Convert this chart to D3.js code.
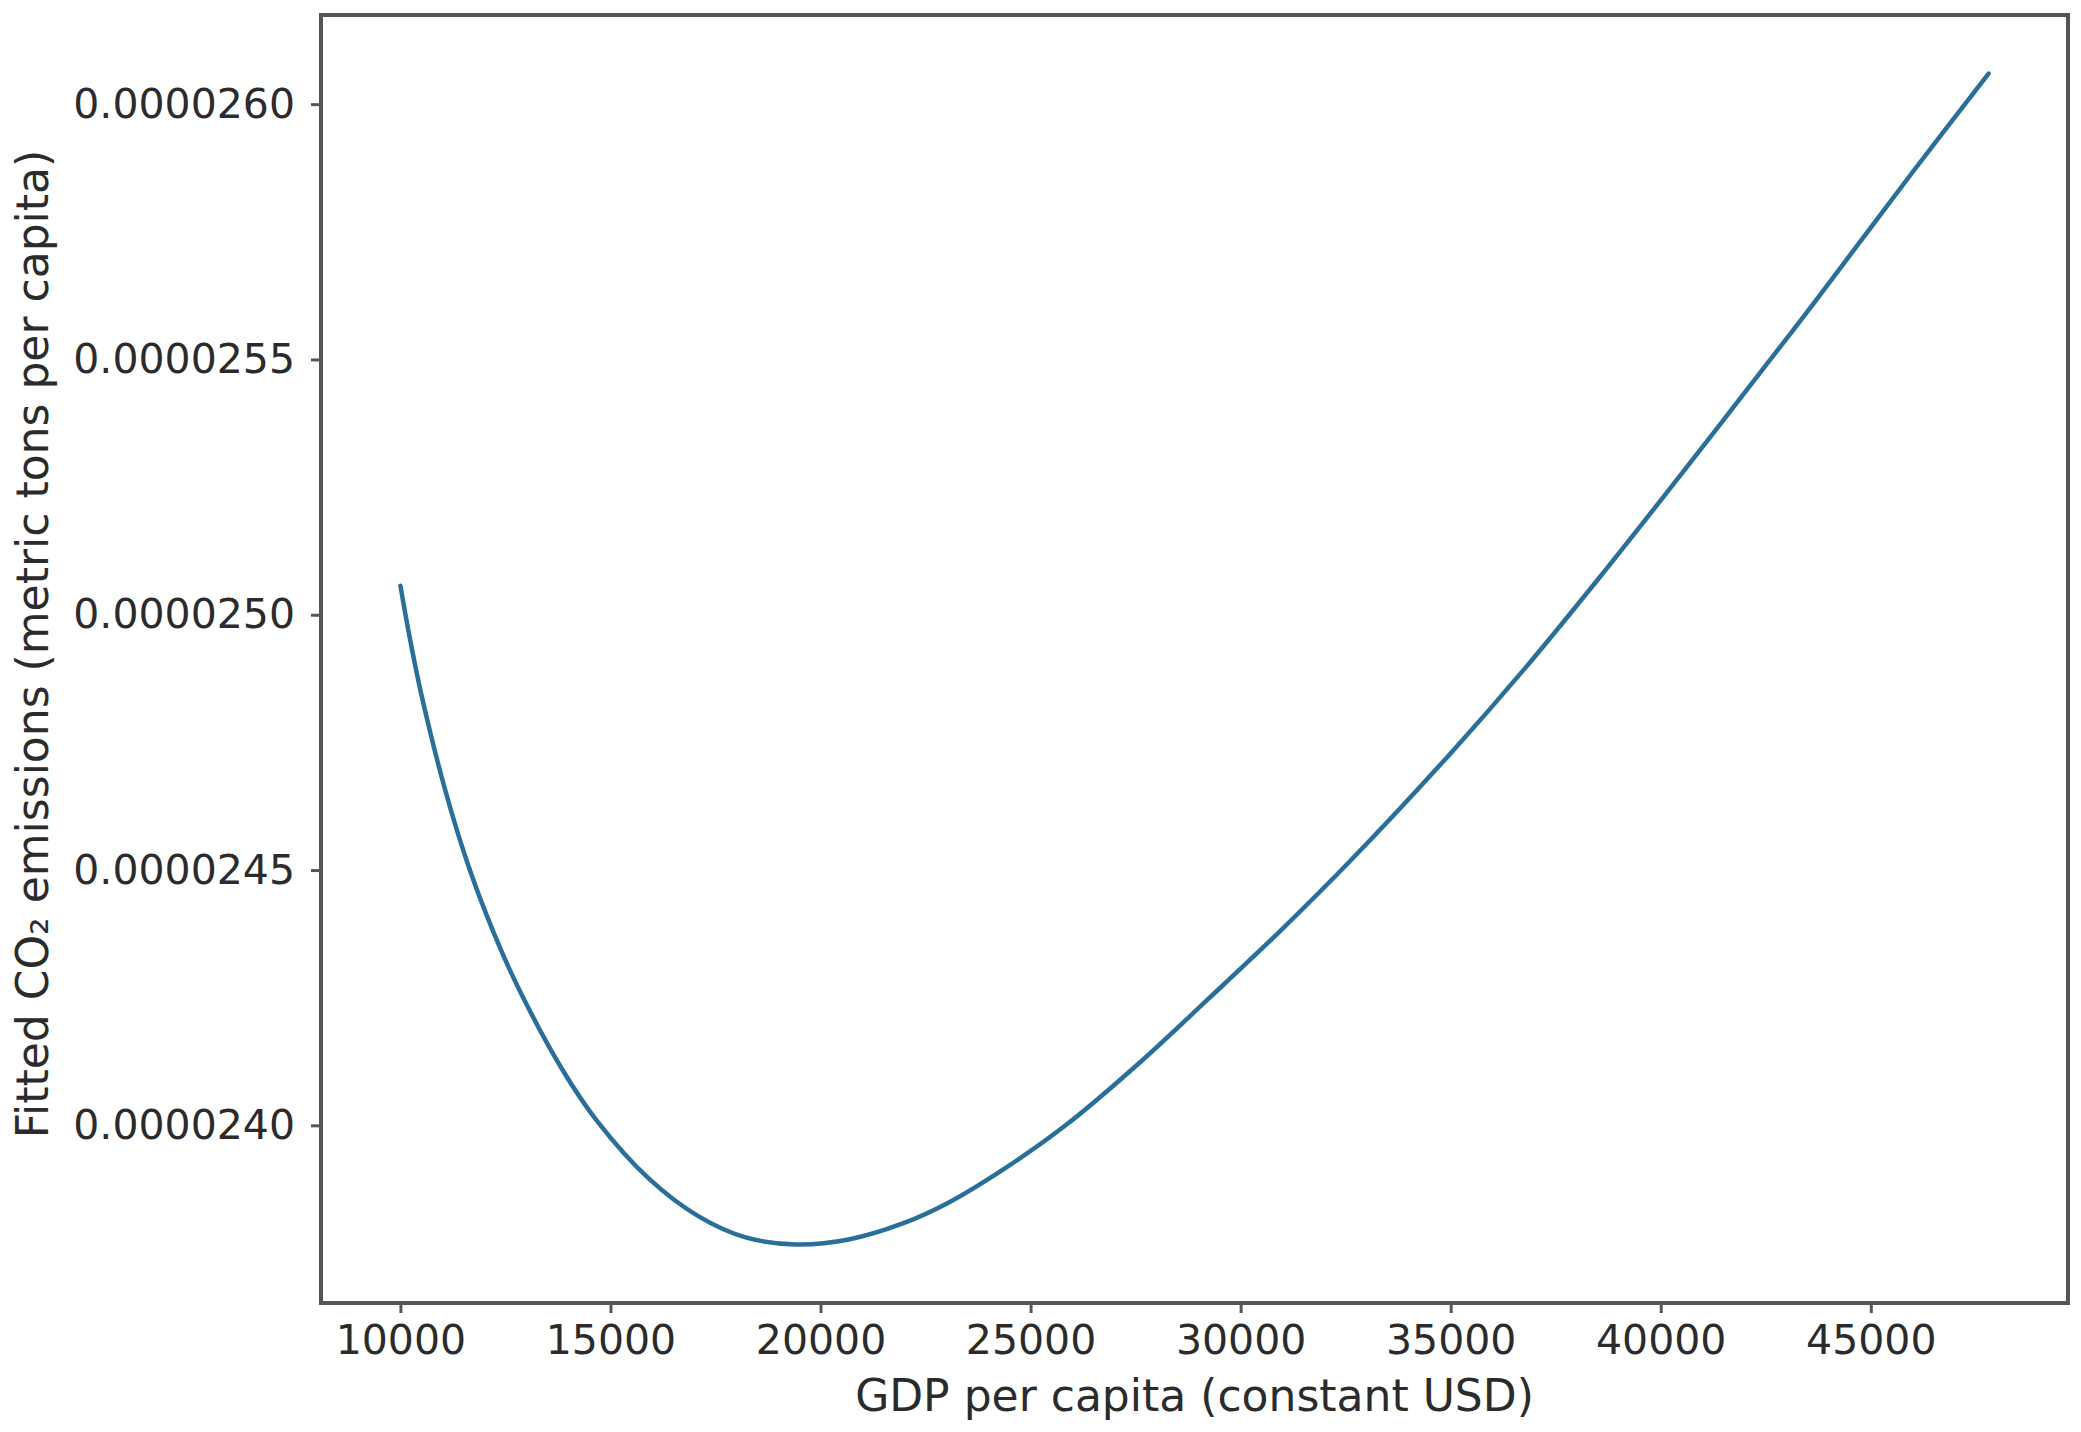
<!DOCTYPE html>
<html>
<head>
<meta charset="utf-8">
<script src="https://cdn.jsdelivr.net/npm/d3@7"></script>
<style>
  body { margin: 0; background: #fff; }
  text { font-family: "DejaVu Sans", sans-serif; fill: #2b2b2b; }
</style>
</head>
<body>
<div id="chart"></div>
<script>
// fitted curve
var gdp = [10000, 10191, 10500, 11072, 11620, 12215, 12811, 13835, 14669, 15908,
           17099, 18218, 19409, 20672, 21958, 23054, 24388, 25865, 27580, 29224,
           30915, 32606, 34964, 36798, 38537, 40181, 42611, 43659, 45993, 47804];
var co2 = [0.0000250569, 0.0000249686, 0.0000248431, 0.0000246549, 0.0000245078,
           0.0000243784, 0.0000242686, 0.0000241118, 0.0000240098, 0.0000238961,
           0.0000238216, 0.0000237804, 0.0000237667, 0.0000237765, 0.0000238078,
           0.0000238490, 0.0000239157, 0.0000240020, 0.0000241216, 0.0000242471,
           0.0000243784, 0.0000245176, 0.0000247255, 0.0000248980, 0.0000250725,
           0.0000252431, 0.0000255000, 0.0000256118, 0.0000258667, 0.0000260600];

var xTicks = [10000, 15000, 20000, 25000, 30000, 35000, 40000, 45000];
var yTicks = [0.0000240, 0.0000245, 0.0000250, 0.0000255, 0.0000260];
var yTickLabels = ["0.0000240", "0.0000245", "0.0000250", "0.0000255", "0.0000260"];

var W = 2081, H = 1432;
var margin = { top: 15, right: 13, bottom: 129, left: 321 },
    width = W - margin.left - margin.right,
    height = H - margin.top - margin.bottom;

var svg = d3.select("#chart").append("svg")
    .attr("width", W)
    .attr("height", H)
    .append("g")
    .attr("transform", "translate(" + margin.left + "," + margin.top + ")");

// matplotlib-like 5% padding around the data
var xExt = d3.extent(gdp), yExt = d3.extent(co2);
var xPad = (xExt[1] - xExt[0]) * 0.05, yPad = (yExt[1] - yExt[0]) * 0.05;

var x = d3.scaleLinear()
    .domain([xExt[0] - xPad, xExt[1] + xPad])
    .range([0, width]);

var y = d3.scaleLinear()
    .domain([yExt[0] - yPad, yExt[1] + yPad])
    .range([height, 0]);

var xAxis = svg.append("g")
    .attr("transform", "translate(0," + height + ")")
    .call(d3.axisBottom(x).tickValues(xTicks).tickFormat(d3.format("d")).tickSize(10).tickPadding(12));

var yAxis = svg.append("g")
    .call(d3.axisLeft(y).tickValues(yTicks)
        .tickFormat(function(d, i) { return yTickLabels[i]; })
        .tickSize(10).tickPadding(16));

[xAxis, yAxis].forEach(function(a) {
    a.select(".domain").remove();
    a.selectAll(".tick line").attr("stroke", "#555").attr("stroke-width", 3);
    a.selectAll(".tick text").style("font-size", "41px").attr("fill", "#2b2b2b");
});

var line = d3.line()
    .x(function(d, i) { return x(gdp[i]); })
    .y(function(d) { return y(d); })
    .curve(d3.curveCatmullRom.alpha(0.5));

svg.append("path")
    .datum(co2)
    .attr("fill", "none")
    .attr("stroke", "#2a6f99")
    .attr("stroke-width", 4.5)
    .attr("stroke-linecap", "round")
    .attr("d", line);

// frame
svg.append("rect")
    .attr("x", 0).attr("y", 0)
    .attr("width", width).attr("height", height)
    .attr("fill", "none")
    .attr("stroke", "#555")
    .attr("stroke-width", 4);

svg.append("text")
    .attr("x", width / 2)
    .attr("y", height + 108)
    .attr("text-anchor", "middle")
    .style("font-size", "44px")
    .text("GDP per capita (constant USD)");

svg.append("text")
    .attr("transform", "translate(" + (48 - margin.left) + "," + (height / 2 - 15) + ") rotate(-90)")
    .attr("text-anchor", "middle")
    .style("font-size", "44px")
    .text("Fitted CO₂ emissions (metric tons per capita)");
</script>
</body>
</html>
